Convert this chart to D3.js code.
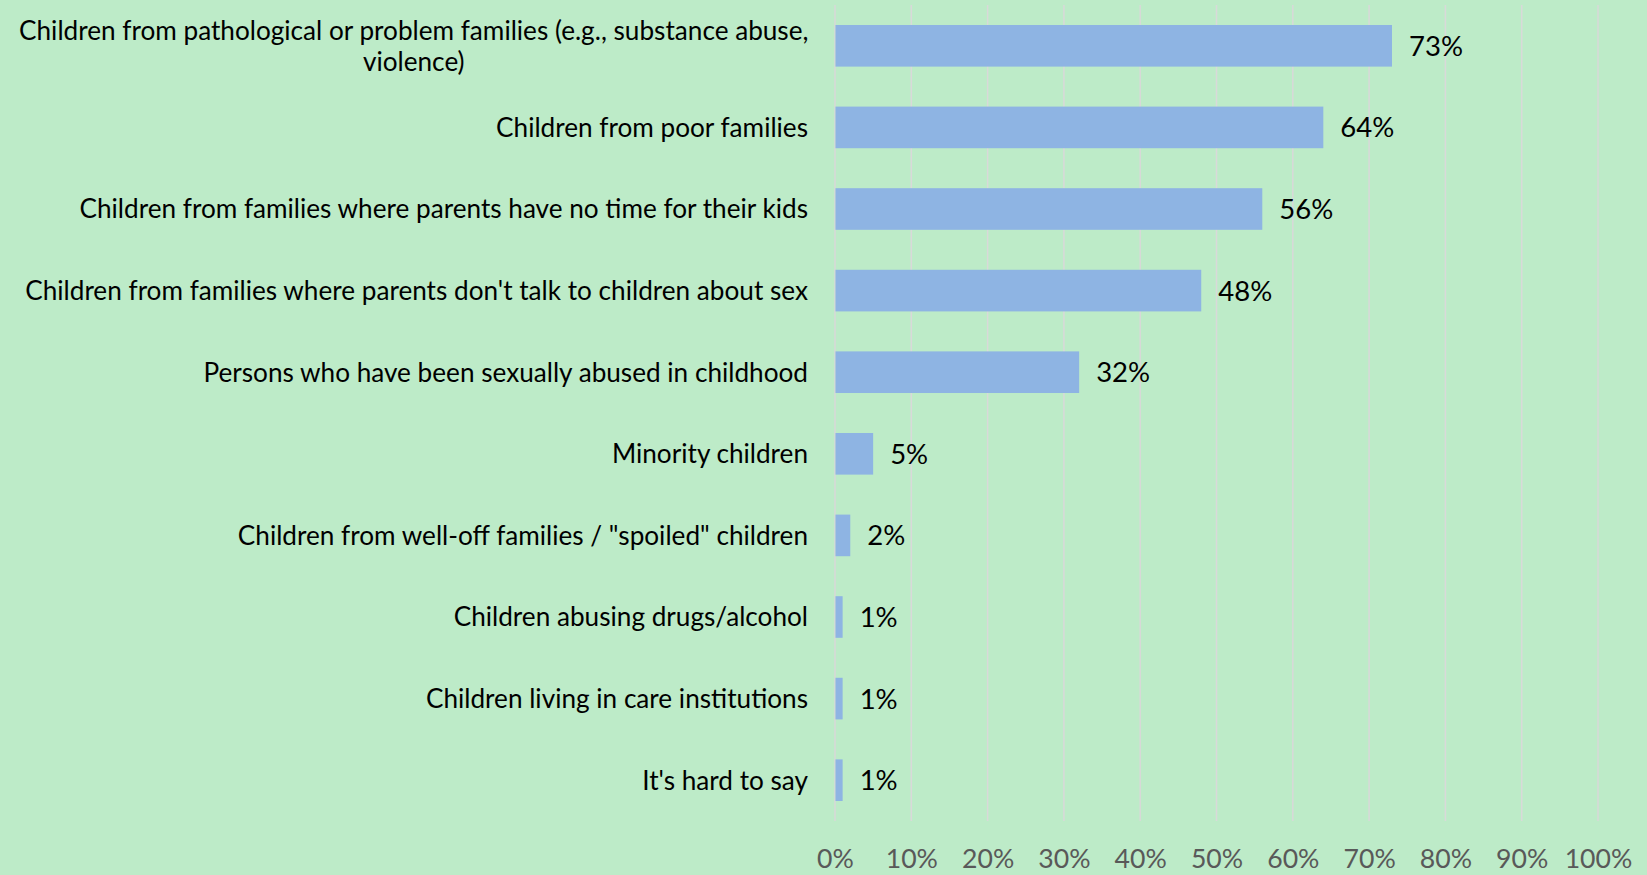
<!DOCTYPE html>
<html>
<head>
<meta charset="utf-8">
<script src="https://cdn.jsdelivr.net/npm/d3@7"></script>
<style>
  html, body { margin: 0; padding: 0; background: #bdebc8; }
  svg { display: block; }
</style>
</head>
<body>
<svg id="chart" width="1647" height="875"></svg>
<script>
// Groups named as most at risk, share of respondents (%)
const categories = [
  "Children from pathological or problem families (e.g., substance abuse,|violence)",
  "Children from poor families",
  "Children from families where parents have no time for their kids",
  "Children from families where parents don't talk to children about sex",
  "Persons who have been sexually abused in childhood",
  "Minority children",
  "Children from well-off families / \"spoiled\" children",
  "Children abusing drugs/alcohol",
  "Children living in care institutions",
  "It's hard to say"
];
const values = [73, 64, 56, 48, 32, 5, 2, 1, 1, 1];
const tickValues = [0, 10, 20, 30, 40, 50, 60, 70, 80, 90, 100];

const W = 1647, H = 875;
const plot = { left: 835, right: 1598, top: 5, bottom: 821 };
const FONT = "Lato, 'Open Sans', sans-serif";

const svg = d3.select("#chart");
svg.append("rect").attr("width", W).attr("height", H).attr("fill", "#bdebc8");

// Fit a font size so that a sample string spans a given width
function fitSize(str, target) {
  const t = svg.append("text").attr("font-family", FONT).attr("font-size", 100).text(str);
  const w = t.node().getComputedTextLength();
  t.remove();
  return 100 * target / w;
}
const catSize = fitSize("Children from families where parents don't talk to children about sex", 783);
const tickSize = fitSize("100%", 67.7);
const valSize = fitSize("73%", 54);

const x = d3.scaleLinear().domain([0, 100]).range([plot.left, plot.right]);
const y = d3.scaleBand()
  .domain(categories)
  .range([plot.top, plot.bottom])
  .paddingInner(0.49)
  .paddingOuter(0.245);

// Vertical gridlines
svg.append("g")
  .selectAll("line")
  .data(tickValues)
  .join("line")
  .attr("x1", d => x(d)).attr("x2", d => x(d))
  .attr("y1", plot.top).attr("y2", plot.bottom)
  .attr("stroke", "#d9d9d9")
  .attr("stroke-width", 1.5);

// Bars
svg.append("g")
  .selectAll("rect")
  .data(values)
  .join("rect")
  .attr("x", x(0) + 0.5)
  .attr("y", (d, i) => y(categories[i]))
  .attr("width", d => Math.max(0, x(d) - x(0) - 0.5))
  .attr("height", y.bandwidth())
  .attr("fill", "#8eb4e3");

// Value labels
svg.append("g")
  .selectAll("text")
  .data(values)
  .join("text")
  .attr("x", d => x(d) + 17)
  .attr("y", (d, i) => y(categories[i]) + y.bandwidth() / 2 + valSize * 0.36)
  .attr("font-family", FONT)
  .attr("font-size", valSize)
  .attr("fill", "#000")
  .text(d => d + "%");

// Category labels (right-aligned block, multi-line entries centred on each other)
const labelRight = 808;
const lineGap = catSize * 1.17;
const catG = svg.append("g");
categories.forEach(c => {
  const lines = c.split("|");
  const cy = y(c) + y.bandwidth() / 2;
  const t = catG.append("text")
    .attr("font-family", FONT)
    .attr("font-size", catSize)
    .attr("fill", "#000");
  if (lines.length === 1) {
    t.attr("x", labelRight).attr("y", cy + catSize * 0.36)
      .attr("text-anchor", "end").text(c);
  } else {
    const spans = lines.map(l => t.append("tspan").text(l));
    const widths = spans.map(s => s.node().getComputedTextLength());
    const maxW = d3.max(widths);
    const centreX = labelRight - maxW / 2;
    const firstY = cy - (lines.length - 1) * lineGap / 2 + catSize * 0.36;
    spans.forEach((s, i) => {
      s.attr("x", centreX).attr("y", firstY + i * lineGap).attr("text-anchor", "middle");
    });
  }
});

// Bottom axis labels
const axis = d3.axisBottom(x)
  .tickValues(tickValues)
  .tickFormat(d => d + "%")
  .tickSize(0)
  .tickPadding(0);
const axG = svg.append("g")
  .attr("transform", `translate(0, ${plot.bottom})`)
  .call(axis);
axG.select(".domain").remove();
axG.selectAll("text")
  .attr("font-family", FONT)
  .attr("font-size", tickSize)
  .attr("fill", "#595959")
  .attr("dy", null)
  .attr("y", 868 - plot.bottom);
</script>
</body>
</html>
